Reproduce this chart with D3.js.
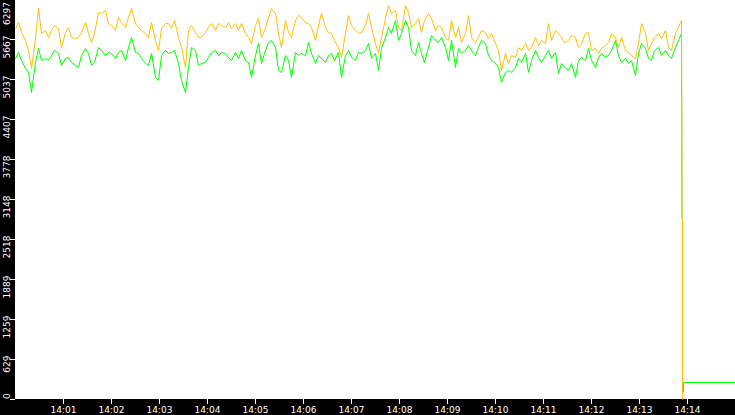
<!DOCTYPE html>
<html>
<head>
<meta charset="utf-8">
<script src="https://cdn.jsdelivr.net/npm/d3@7"></script>
<style>
html, body { margin: 0; padding: 0; background: #000; }
svg { display: block; }
</style>
</head>
<body>
<div id="chart"></div>
<script>
/* Two throughput series, one sample every 25/6 s from 14:00:00,
   followed by a short tail where the feed drops out. */

var startTime = new Date(2000, 0, 1, 14, 0, 0);
var endTime = new Date(2000, 0, 1, 14, 15, 0);
var stepSeconds = 25 / 6;
var yMax = 6297;

var yTickLabels = ["0", "629", "1259", "1889", "2518", "3148", "3778", "4407", "5037", "5667", "6297"];
var xTickLabels = ["14:01", "14:02", "14:03", "14:04", "14:05", "14:06", "14:07",
                   "14:08", "14:09", "14:10", "14:11", "14:12", "14:13", "14:14"];

var orangeValues = [
	5835, 5940, 5782, 5651, 5493, 5205, 5677, 6150, 5756, 5809,
	5704, 5809, 5887, 5835, 5546, 5782, 5861, 5704, 5677, 5704,
	5782, 5940, 5756, 5625, 5756, 6097, 6071, 6124, 5914, 5887,
	5809, 6018, 5940, 5861, 6018, 6150, 5914, 5861, 5809, 5756,
	5704, 5940, 5651, 5493, 5835, 5914, 5914, 5835, 5966, 5704,
	5546, 5231, 5809, 5887, 5782, 5704, 5704, 5782, 5861, 5914,
	5809, 5914, 5887, 5861, 5940, 5835, 5914,
	5809, 5914, 5756, 5704, 5598, 5887, 5992, 5704, 5861, 6018,
	6150, 6071, 5756, 5546, 5966, 5782, 5704, 5966, 6045, 6018,
	5940, 5914, 5861, 5651, 5887, 6071, 5861, 5782, 5756, 5651,
	5546, 5389, 5756, 6045, 5887, 5809, 5756, 5782, 5887, 6071,
	5861, 5598, 5441, 5704, 5992, 6202, 6071, 6124, 5861, 5809,
	6202, 6097, 5861, 5914, 5992, 5782, 5966, 6071, 5992, 5809,
	5887, 5861, 5704, 5651, 5966, 5704, 5861, 5625,
	5756, 6045, 5704, 5625, 5704, 5809, 5782, 5677, 5756, 5598,
	5494, 5179, 5441, 5284, 5415, 5389, 5546, 5494, 5598, 5494,
	5546, 5704, 5572, 5651, 5598, 5914, 5651, 5809, 5756, 5704,
	5625, 5651, 5730, 5704, 5546, 5598, 5756, 5782, 5494, 5520,
	5441, 5520, 5572, 5625, 5756, 5704, 5546, 5704, 5494, 5467,
	5415, 5362, 5598, 5914, 5756, 5494, 5598, 5704, 5756, 5677,
	5809, 5546, 5494, 5756, 5861, 5966
];

var greenValues = [
	5362, 5467, 5336, 5205, 5152, 4837, 5310, 5520, 5336, 5362,
	5336, 5415, 5494, 5441, 5257, 5362, 5389, 5310, 5257, 5231,
	5415, 5520, 5441, 5257, 5310, 5546, 5494, 5415, 5467, 5441,
	5362, 5467, 5494, 5336, 5546, 5704, 5467, 5441, 5362, 5284,
	5257, 5441, 5074, 5021, 5415, 5494, 5441, 5467, 5494, 5284,
	5021, 4837, 5231, 5546, 5494, 5257, 5284, 5310, 5389, 5467,
	5494, 5415, 5467, 5441, 5389, 5336, 5467,
	5362, 5494, 5336, 5310, 5074, 5415, 5598, 5284, 5494, 5625,
	5651, 5546, 5179, 5152, 5415, 5336, 5074, 5467, 5415, 5441,
	5415, 5625, 5441, 5284, 5415, 5362, 5310, 5415, 5441, 5336,
	5467, 5074, 5415, 5494, 5389, 5336, 5467, 5441, 5494, 5598,
	5362, 5441, 5179, 5520, 5704, 5861, 5756, 5966, 5651, 5756,
	5966, 5861, 5494, 5415, 5625, 5441, 5310, 5546, 5730, 5651,
	5625, 5704, 5546, 5336, 5651, 5231, 5520, 5441,
	5494, 5572, 5494, 5415, 5546, 5651, 5598, 5415, 5336, 5284,
	5231, 4995, 5152, 5179, 5152, 5231, 5362, 5310, 5441, 5152,
	5336, 5494, 5389, 5310, 5415, 5494, 5362, 5467, 5126, 5284,
	5231, 5179, 5284, 5074, 5336, 5389, 5336, 5520, 5336, 5231,
	5389, 5441, 5389, 5415, 5494, 5651, 5415, 5310, 5362, 5284,
	5336, 5100, 5441, 5598, 5520, 5362, 5336, 5494, 5546, 5415,
	5494, 5415, 5362, 5546, 5651, 5756
];

// tail after the regular samples: seconds since 14:00 and values
var orangeTailSeconds = [833.75, 834.375, 834.375];
var orangeTailValues = [2850, 2850, 0];
var greenTailSeconds = [833.75, 834.375, 834.375, 835.625, 835.625, 900];
var greenTailValues = [2850, 2850, 126, 126, 268, 268];

var orangeColor = "#FFC000";
var greenColor = "#00FF00";

var width = 735, height = 415;
var plotLeft = 15, plotBottom = 399;

function at_seconds(s)
{
	return new Date(startTime.getTime() + s * 1000);
}

function build_points(values, tailSeconds, tailValues)
{
	var pts = values.map(function(v, i) { return { t: at_seconds(i * stepSeconds), v: v }; });
	for (var i = 0; i < tailSeconds.length; ++i)
		pts.push({ t: at_seconds(tailSeconds[i]), v: tailValues[i], tail: true });
	return pts;
}

var svg = d3.select("#chart").append("svg")
	.attr("width", width)
	.attr("height", height);

svg.append("rect")
	.attr("x", 0).attr("y", 0)
	.attr("width", width).attr("height", height)
	.attr("fill", "#000");

svg.append("rect")
	.attr("x", plotLeft).attr("y", 0)
	.attr("width", width - plotLeft).attr("height", plotBottom)
	.attr("fill", "#fff");

var x = d3.scaleTime().domain([startTime, endTime]).range([plotLeft, width]);
var y = d3.scaleLinear().domain([0, yMax]).range([plotBottom, -1]);

// snap regular samples to pixel centres so the 1px lines stay hard-edged
var line = d3.line()
	.x(function(d) { return d.tail ? x(d.t) : Math.floor(x(d.t)) + 0.5; })
	.y(function(d) { return Math.round(y(d.v)) + 0.5; });

svg.append("path")
	.datum(build_points(greenValues, greenTailSeconds, greenTailValues))
	.attr("fill", "none")
	.attr("stroke", greenColor)
	.attr("stroke-width", 1)
	.attr("d", line);

svg.append("path")
	.datum(build_points(orangeValues, orangeTailSeconds, orangeTailValues))
	.attr("fill", "none")
	.attr("stroke", orangeColor)
	.attr("stroke-width", 1)
	.attr("d", line);

/* X axis */
var parseMinute = d3.timeParse("%H:%M");
var xTicks = xTickLabels.map(function(s) {
	var p = parseMinute(s);
	return new Date(2000, 0, 1, p.getHours(), p.getMinutes(), 0);
});

svg.append("g")
	.attr("transform", "translate(0," + plotBottom + ")")
	.style("color", "#fff")
	.call(d3.axisBottom(x)
		.tickValues(xTicks)
		.tickFormat(function(d, i) { return xTickLabels[i]; })
		.tickSize(5))
	.call(function(g) { g.select(".domain").remove(); })
	.call(function(g) {
		g.selectAll("text")
			.attr("font-family", "DejaVu Sans")
			.attr("font-size", 9);
	});

/* Y axis, labels rotated and kept inside the plot height */
var yTicks = yTickLabels.map(function(s, i) { return i * yMax / 10; });

var yAxis = svg.append("g")
	.attr("transform", "translate(" + plotLeft + ",0)")
	.style("color", "#fff")
	.call(d3.axisLeft(y)
		.tickValues(yTicks)
		.tickFormat(function(d, i) { return yTickLabels[i]; })
		.tickSize(5))
	.call(function(g) { g.select(".domain").remove(); });

yAxis.selectAll(".tick").each(function(d) {
	var ty = y(d) + 0.5;
	var t = d3.select(this).select("text")
		.attr("font-family", "DejaVu Sans")
		.attr("font-size", 9)
		.attr("text-anchor", "end")
		.attr("dy", 0)
		.attr("transform", "rotate(-90)");
	var len = t.node().getComputedTextLength();
	var a = Math.max(Math.min(4, ty - 2), ty + len - plotBottom);
	t.attr("x", a).attr("y", -5.5);
});
</script>
</body>
</html>
